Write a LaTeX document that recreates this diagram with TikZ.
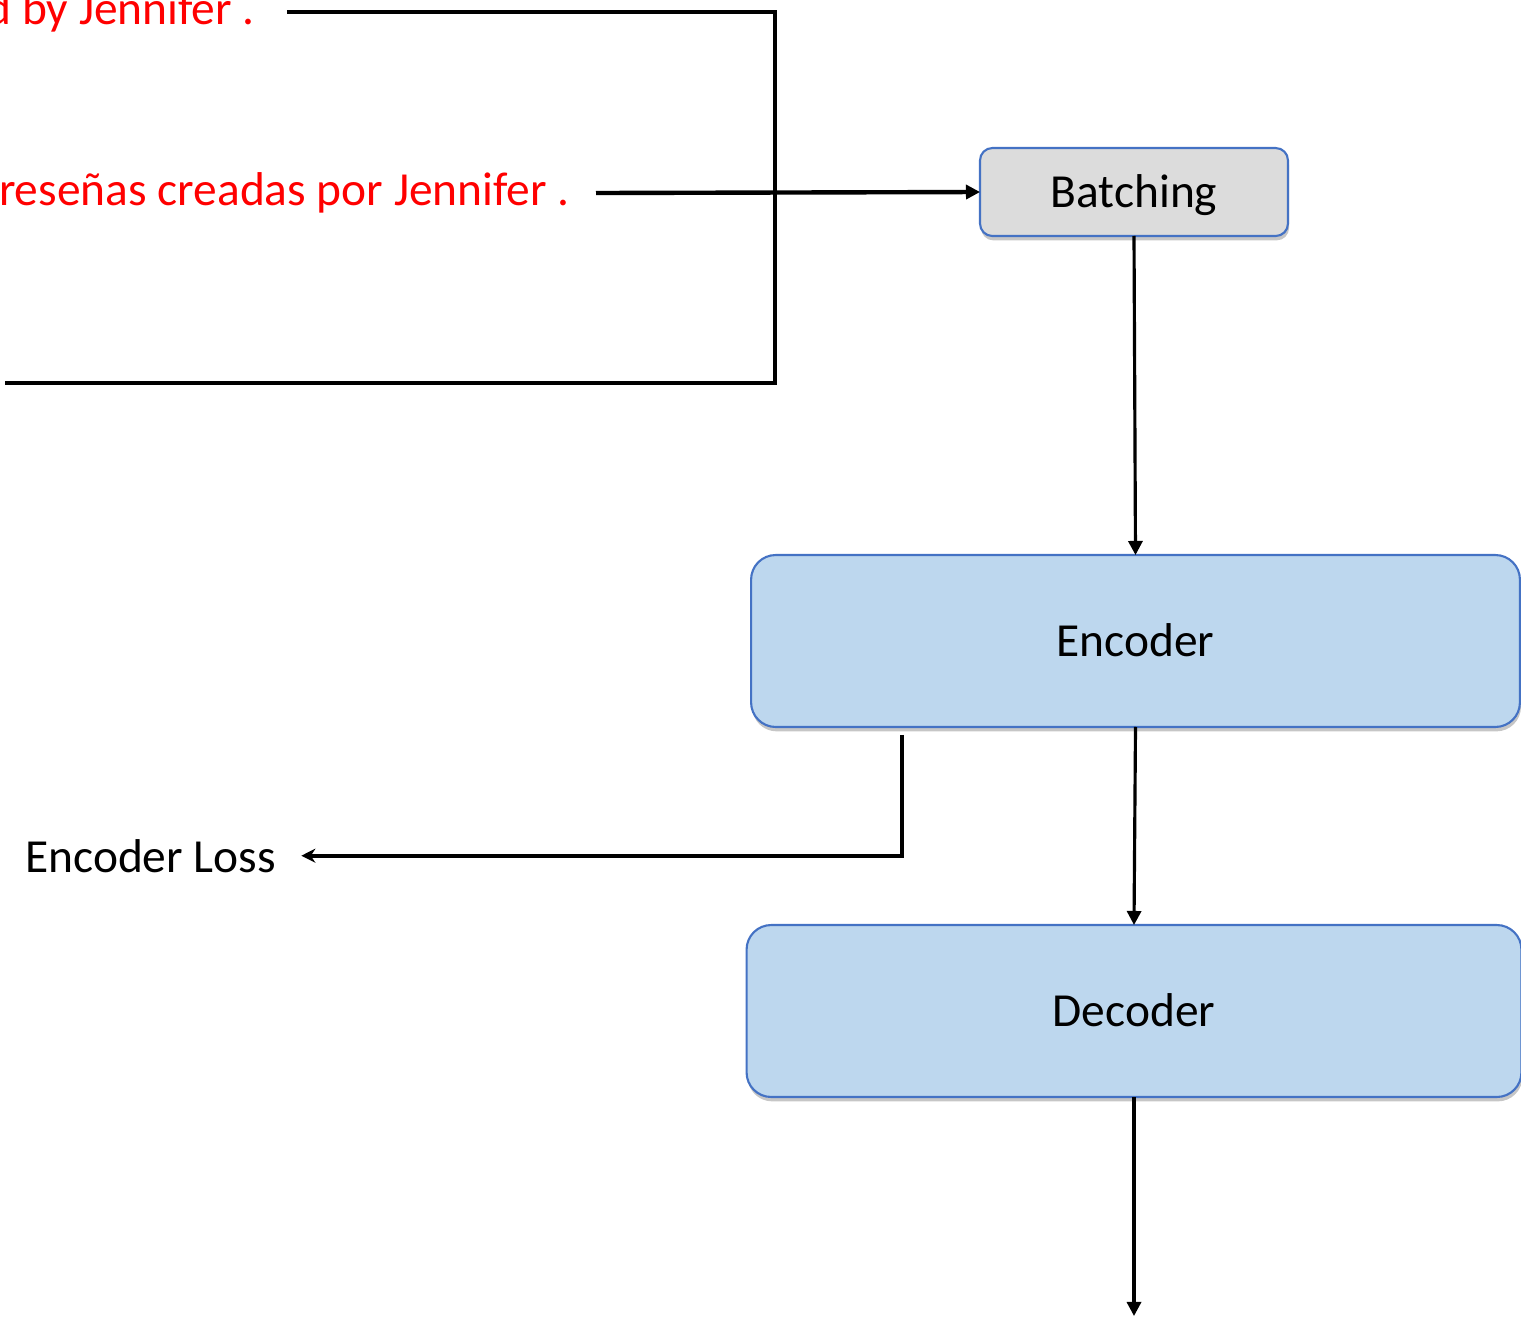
\documentclass[tikz,border=0pt]{standalone}
\usepackage{fontspec}
\setmainfont{Carlito}
\usetikzlibrary{arrows.meta,positioning,shadows}
\definecolor{boxblue}{HTML}{4472C4}
\definecolor{stagefill}{HTML}{BDD7EE}
\definecolor{batchfill}{HTML}{DCDCDC}
\tikzset{
    block/.style = {draw = boxblue, line width = 1.2pt, rounded corners = 14pt,
        inner sep = 0pt, outer sep = 0pt, font = \fontsize{27}{31}\selectfont,
        text height = 17.4pt, text depth = 0pt,
        drop shadow = {shadow xshift = 0.6pt, shadow yshift = -2.5pt, opacity = 0.45}},
    sentence/.style = {text = red, inner sep = 0pt, anchor = east,
        font = \fontsize{27}{31}\selectfont},
    wire/.style = {line width = 2.5pt},
    flow/.style = {line width = 1.8pt, -{Triangle[length = 8pt, width = 8pt]}},
}

\begin{document}
\begin{tikzpicture}[x = 0.02cm, y = -0.02cm]
    \useasboundingbox (0, 0) rectangle (1521, 1316);
    \clip (0, 0) rectangle (1521, 1316);

    % boxes
    \node [block, fill = batchfill, rounded corners = 7pt,
        minimum width = 6.16cm, minimum height = 1.76cm] (batch) at (1134, 192) {Batching};
    \node [block, fill = stagefill,
        minimum width = 15.38cm, minimum height = 3.44cm] (enc) at (1135.5, 641) {Encoder};
    \node [block, fill = stagefill,
        minimum width = 15.5cm, minimum height = 3.44cm] (dec) at (1134, 1011) {Decoder};

    % sentences
    \node [sentence] (src) at (255, 12) {d by Jennifer .};
    \node [sentence] (tgt) at (570, 193) {reseñas creadas por Jennifer .};
    \node [inner sep = 0pt, anchor = base west, font = \fontsize{27}{31}\selectfont]
        (loss) at (25, 872) {Encoder Loss};

    \coordinate (bend) at (775, 383);
    \coordinate (loopend) at (5, 383);
    \coordinate (out) at (1134, 1316);

    % connectors
    \draw [wire] ([xshift = 0.64cm]src.east) -| (bend) -- (loopend);
    \draw [wire, -{Triangle[length = 8pt, width = 8pt]}]
        ([xshift = 0.52cm]tgt.east) -- (batch.west);
    \draw [flow] (batch.south) -- (enc.north);
    \draw [flow] (enc.south) -- (dec.north);
    \draw [flow] (dec.south) -- (out);
    \draw [wire, -{Stealth[length = 8pt, width = 8pt]}]
        ([xshift = 3.02cm, yshift = -0.16cm]enc.south west) |- ([xshift = 0.5cm]loss.east);
\end{tikzpicture}
\end{document}
